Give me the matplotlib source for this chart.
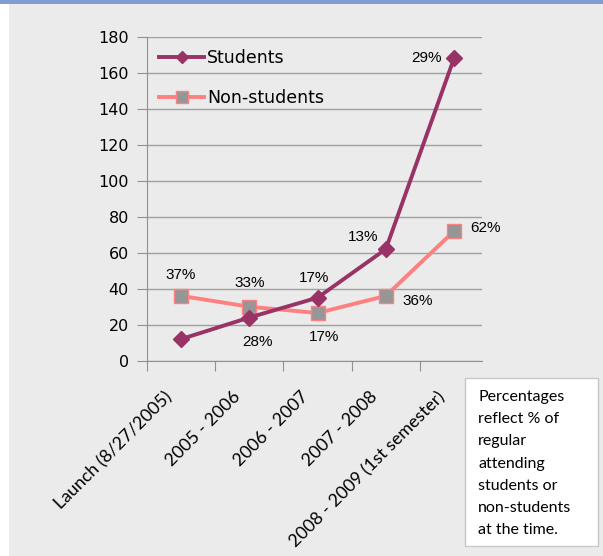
import numpy as np
import matplotlib.pyplot as plt
from matplotlib.patches import Rectangle

periods = ['Launch (8/27/2005)', '2005 - 2006', '2006 - 2007', '2007 - 2008',
           '2008 - 2009 (1st semester)']
students = [12, 24, 35, 62, 168]
nonstudents = [36, 30, 26.5, 36, 72]
stud_labels = ['', '28%', '17%', '13%', '29%']
non_labels = ['37%', '33%', '17%', '36%', '62%']
yticks = [0, 20, 40, 60, 80, 100, 120, 140, 160, 180]
note = 'Percentages\nreflect % of\nregular\nattending\nstudents or\nnon-students\nat the time.'

W, H = 603, 556
bg = '#ebebeb'
fig = plt.figure(figsize=(W/100, H/100), dpi=100)
fig.patch.set_facecolor('white')
# grey chart area with blue strip on top
fig.patches.append(Rectangle((9/W, 0), 1, 1, transform=fig.transFigure,
                             facecolor=bg, edgecolor='none', zorder=-2))
fig.patches.append(Rectangle((0, 1-4/H), 1, 4/H, transform=fig.transFigure,
                             facecolor='#7f9dd0', edgecolor='none', zorder=-1))

ax = fig.add_axes([147/W, 195.3/H, 335/W, 324/H])
ax.set_facecolor(bg)
x = np.arange(len(periods))

ax.plot(x, students, color='#993366', lw=2.8, marker='D', ms=8,
        mfc='#993366', mec='#993366', label='Students', zorder=4, clip_on=False)
ax.plot(x, nonstudents, color='#ff8080', lw=2.8, marker='s', ms=10,
        mfc='#969696', mec='#ff8080', mew=1, label='Non-students', zorder=3,
        clip_on=False)

ax.set_xlim(-0.5, 4.41)
ax.set_ylim(0, 180)
ax.set_yticks(yticks)
ax.yaxis.grid(True, color='#a0a0a0', lw=1)
ax.set_axisbelow(True)
for s in ['top', 'right']:
    ax.spines[s].set_visible(False)
for s in ['left', 'bottom']:
    ax.spines[s].set_color('#909090')
ax.tick_params(axis='y', length=7, color='#909090', labelsize=11.5, pad=6)
ax.set_xticks(np.arange(-0.5, 4, 1.0))
ax.set_xticklabels([])
ax.tick_params(axis='x', length=7, color='#909090', direction='out')

for i, lab in enumerate(periods):
    ax.annotate(lab, (x[i], 0), xytext=(-17, -28), textcoords='offset pixels',
                rotation=45, ha='right', va='top', rotation_mode='anchor',
                fontsize=12.8, family='Lato')

# data labels
lab_font = dict(fontsize=11, family='Liberation Sans')
stud_off = [(0, 0), (8, -24), (-4, 20), (-23, 12), (-28, 0)]
non_off = [(0, 21), (0, 24), (6, -24), (32, -5), (31, 3)]
for i in range(len(periods)):
    if stud_labels[i]:
        ax.annotate(stud_labels[i], (x[i], students[i]), xytext=stud_off[i],
                    textcoords='offset pixels', ha='center', va='center', **lab_font)
    ax.annotate(non_labels[i], (x[i], nonstudents[i]), xytext=non_off[i],
                textcoords='offset pixels', ha='center', va='center', **lab_font)

leg = ax.legend(loc='upper left', bbox_to_anchor=(0.0, 1.0), frameon=False,
                fontsize=12.5, handlelength=2.6, labelspacing=1.3,
                handletextpad=0.15, borderaxespad=0.3, markerscale=0.8)

fig.patches.append(Rectangle((465/W, 1-546/H), 133/W, 168/H,
                             transform=fig.transFigure, facecolor='white',
                             edgecolor='#c8c8c8', lw=1))
fig.text(478/W, 1-390/H, note, ha='left', va='top', fontsize=11.5,
         family='Lato', linespacing=1.75)

fig.savefig('out.png', dpi=100, facecolor=fig.get_facecolor())
